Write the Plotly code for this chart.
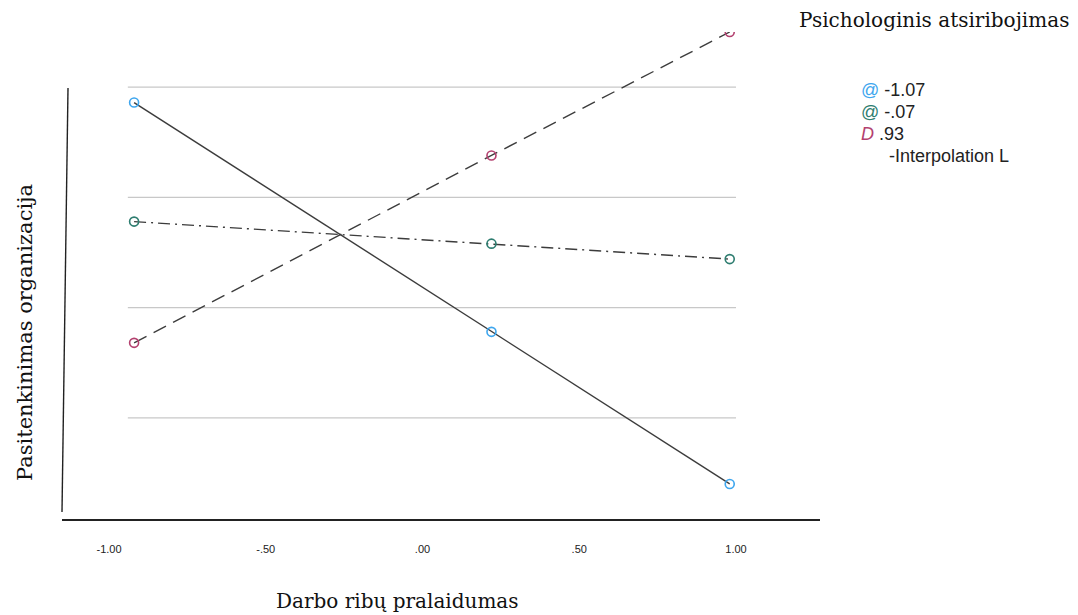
import plotly.graph_objects as go

# Data
x_vals = [-0.92, 0.22, 0.98]
series_names = ["-1.07", "-.07", ".93"]
series_y = {
    "-1.07": [4.43, 3.39, 2.70],
    "-.07": [3.89, 3.79, 3.72],
    ".93": [3.34, 4.19, 4.75],
}
series_colors = {"-1.07": "#3ea6ee", "-.07": "#2e7d70", ".93": "#b3416f"}
series_dash = {"-1.07": "solid", "-.07": "12px,5px,2px,5px", ".93": "14px,8px"}
grid_vals = [3.0, 3.5, 4.0, 4.5]
tick_vals = [-1.0, -0.5, 0.0, 0.5, 1.0]
tick_text = ["-1.00", "-.50", ".00", ".50", "1.00"]

W, H = 1078, 615
L, R, T, B = 62, 258, 32, 96
PW, PH = W - L - R, H - T - B


def px_x(p):
    return (p - L) / PW


def px_y(p):
    return (H - B - p) / PH


fig = go.Figure()
for name in series_names:
    fig.add_trace(go.Scatter(
        x=x_vals, y=series_y[name], mode="lines+markers",
        line=dict(color="#3c3c3c", width=1.4, dash=series_dash[name]),
        marker=dict(symbol="circle-open", size=9, color=series_colors[name],
                    line=dict(width=1.6, color=series_colors[name])),
        showlegend=False, cliponaxis=True,
    ))

shapes = []
for g in grid_vals:
    shapes.append(dict(type="line", xref="x", yref="y", x0=-0.94, x1=1.0, y0=g, y1=g,
                       line=dict(color="#c8c8c8", width=1.3), layer="below"))
# slanted vertical axis line
shapes.append(dict(type="line", xref="paper", yref="paper", x0=px_x(68), x1=px_x(62),
                   y0=px_y(88), y1=px_y(512), line=dict(color="#222222", width=1.4)))

serif = "DejaVu Serif, serif"
sans = "Liberation Sans, Arial, sans-serif"
annotations = [
    dict(text="Psichologinis atsiribojimas", xref="paper", yref="paper",
         x=px_x(797), y=px_y(20), xanchor="left", yanchor="middle",
         showarrow=False, font=dict(family=serif, size=20, color="#111")),
    dict(text="Darbo ribų pralaidumas", xref="paper", yref="paper",
         x=px_x(397), y=px_y(601), xanchor="center", yanchor="middle",
         showarrow=False, font=dict(family=serif, size=20, color="#111")),
    dict(text="Pasitenkinimas organizacija", xref="paper", yref="paper", textangle=-90,
         x=px_x(25), y=px_y(333), xanchor="center", yanchor="middle",
         showarrow=False, font=dict(family=serif, size=21, color="#111")),
]
legend_lines = [
    ("<span style='color:%s'>@</span> -1.07" % series_colors["-1.07"], 859, 90),
    ("<span style='color:%s'>@</span> -.07" % series_colors["-.07"], 859, 112),
    ("<span style='color:%s'><i>D</i></span> .93" % series_colors[".93"], 859, 134),
    ("-Interpolation L", 887, 156),
]
for txt, px, py in legend_lines:
    annotations.append(dict(text=txt, xref="paper", yref="paper",
                            x=px_x(px), y=px_y(py),
                            xanchor="left", yanchor="middle", showarrow=False,
                            font=dict(family=sans, size=18, color="#222")))

fig.update_layout(
    width=W, height=H, margin=dict(l=L, r=R, t=T, b=B),
    paper_bgcolor="white", plot_bgcolor="white",
    shapes=shapes, annotations=annotations,
    xaxis=dict(range=[-1.15, 1.268], showgrid=False, zeroline=False, showline=True,
               linecolor="#222", linewidth=1.5, tickvals=tick_vals, ticktext=tick_text,
               ticks="", ticklabelstandoff=19,
               tickfont=dict(family="Liberation Sans Narrow, Arial Narrow, sans-serif", size=11, color="#222")),
    yaxis=dict(range=[2.541, 4.75], showgrid=False, zeroline=False, showline=False,
               showticklabels=False, ticks=""),
)

fig.write_html("out.html")
